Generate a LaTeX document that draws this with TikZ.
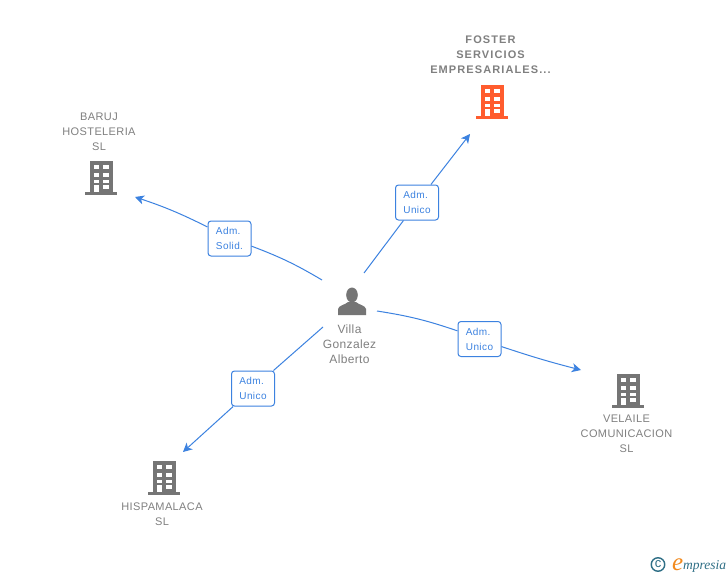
\documentclass[tikz,border=0pt]{standalone}
\usepackage{fontspec}
\setmainfont{Liberation Sans}
\newfontfamily\logofont{Liberation Serif}
\usetikzlibrary{arrows.meta}
\definecolor{linkblue}{HTML}{3C82E0}
\definecolor{labelgray}{HTML}{808080}
\definecolor{icongray}{HTML}{757575}
\definecolor{iconorange}{HTML}{FF5C2E}
\definecolor{logoteal}{HTML}{2F6F86}
\definecolor{logoorange}{HTML}{F28A1E}
\tikzset{
	company/.style={text=labelgray, align=center, inner sep=0, font=\fontsize{11}{15}\selectfont\addfontfeature{LetterSpace=3.5}},
	maincompany/.style={company, font=\fontsize{11}{15}\selectfont\bfseries\addfontfeature{LetterSpace=10}},
	person/.style={text=labelgray, align=center, inner sep=0, font=\fontsize{12}{15}\selectfont\addfontfeature{LetterSpace=3}},
	role/.style={draw=linkblue, fill=white, rounded corners=3, line width=1, text=linkblue, align=left, minimum width=43, minimum height=35, inner sep=0, font=\fontsize{10}{15}\selectfont\addfontfeature{LetterSpace=4}},
	link/.style={draw=linkblue, line width=1},
	linkend/.style={link, -{Stealth[length=9, width=9, inset=2.5]}}
}
\def\buildingicon(#1)#2{
	\begin{scope}[shift={(#1)}]
		\fill[#2] (-11, 0) rectangle (11.5, 32);
		\fill[#2] (-16, 31) rectangle (16, 34);
		\fill[white] (-6.7, 4) rectangle (-1.7, 8.3);
		\fill[white] (2.3, 4) rectangle (7.7, 8.3);
		\fill[white] (-6.7, 11.7) rectangle (-1.7, 16);
		\fill[white] (2.3, 11.7) rectangle (7.7, 16);
		\fill[white] (-6.7, 19) rectangle (-1.7, 22.3);
		\fill[white] (2.3, 19) rectangle (7.7, 22.3);
		\fill[white] (-6.7, 24) rectangle (-1.7, 31);
		\fill[white] (2.3, 24) rectangle (7.7, 28);
	\end{scope}
}
\begin{document}
\begin{tikzpicture}[x=1pt, y=-1pt]
	%%%%% START %%%%%
	
	\useasboundingbox[fill=white] (0, 0) rectangle (728, 575);
	
	% icons
	\buildingicon(492, 85){iconorange}
	\buildingicon(101, 161){icongray}
	\buildingicon(628, 374){icongray}
	\buildingicon(164, 461){icongray}
	
	\fill[icongray] (338, 315) -- (338, 309) .. controls (339, 305) and (345, 305) .. (348, 302) -- (356, 302) .. controls (359, 305) and (365, 305) .. (366, 309) -- (366, 315) -- cycle;
	\fill[icongray] (352, 295) ellipse (5.8 and 7.5);
	
	% labels
	\node[maincompany] (foster) at (490.5, 55) {FOSTER\\SERVICIOS\\EMPRESARIALES...};
	\node[company] (baruj) at (99, 132) {BARUJ\\HOSTELERIA\\SL};
	\node[company] (velaile) at (626.5, 434) {VELAILE\\COMUNICACION\\SL};
	\node[company] (hispamalaca) at (162, 514.5) {HISPAMALACA\\SL};
	\node[person] (villa) at (349.5, 344) {Villa\\Gonzalez\\Alberto};
	
	% free ends of the links
	\coordinate (villafoster) at (364, 273);
	\coordinate (villabaruj) at (322, 280);
	\coordinate (villavelaile) at (377, 311);
	\coordinate (villahispa) at (323, 327);
	\coordinate (endfoster) at (470, 134);
	\coordinate (endbaruj) at (135, 197);
	\coordinate (endvelaile) at (581, 370);
	\coordinate (endhispa) at (183, 452);
	
	% role boxes
	\node[role] (admfoster) at (417, 202.5) {Adm.\\Unico};
	\node[role] (admbaruj) at (229.5, 238.5) {Adm.\\Solid.};
	\node[role] (admvelaile) at (479.5, 339) {Adm.\\Unico};
	\node[role] (admhispa) at (253, 388.5) {Adm.\\Unico};
	
	% links
	\draw[link] (villafoster) -- (admfoster);
	\draw[linkend] (admfoster) -- (endfoster);
	\draw[link] (villabaruj) to[bend right=5] (admbaruj);
	\draw[linkend] (admbaruj) to[bend right=4] (endbaruj);
	\draw[link] (villavelaile) to[bend left=5] (admvelaile);
	\draw[linkend] (admvelaile) to[bend right=2] (endvelaile);
	\draw[link] (villahispa) -- (admhispa);
	\draw[linkend] (admhispa) -- (endhispa);
	
	% logo
	\node[circle, draw=logoteal, line width=1.4, minimum size=13.5, inner sep=0, text=logoteal, font=\fontsize{13}{13}\selectfont] (logocopy) at (658, 564.5) {\raisebox{0.5pt}{c}};
	\node[inner sep=0, anchor=base west, text=logoorange, font=\logofont\fontsize{25}{25}\selectfont\itshape] (logoe) at (672, 570) {e};
	\node[inner sep=0, anchor=base west, text=logoteal, font=\logofont\fontsize{13.5}{13.5}\selectfont\itshape] (logotext) at (683, 569) {mpresia};
	
	%%%%% END %%%%%
\end{tikzpicture}
\end{document}
